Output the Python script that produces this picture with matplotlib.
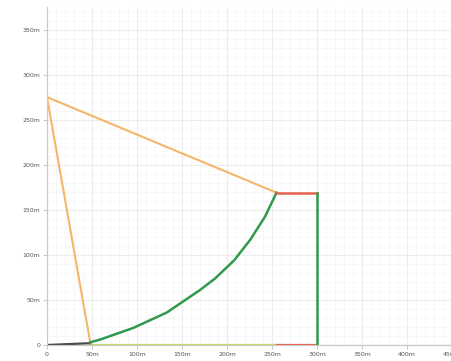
import numpy as np
import matplotlib
matplotlib.use('Agg')
import matplotlib.pyplot as plt
from matplotlib.ticker import MultipleLocator, FuncFormatter

# profile segments (metres)
rise_x = [0, 0]
rise_y = [0, 275]
steep_x = [0, 48]
steep_y = [275, 3]
slope_x = [0, 255]
slope_y = [275, 169]
curve_x = [48, 59, 96, 133, 170, 187, 208, 226, 242, 255]
curve_y = [3, 6, 19, 36, 61, 74, 94, 117, 142, 169]
top_x = [255, 300]
top_y = [169, 169]
drop_x = [300, 300]
drop_y = [169, 0]
base_dark_x = [0, 48]
base_dark_y = [0, 2]
base_mid_x = [48, 255]
base_mid_y = [0, 0]
base_red_x = [255, 300]
base_red_y = [0, 0]
base_tail_x = [300, 450]
base_tail_y = [0, 0]

orange = '#f7b56a'
green = '#2f9a4c'
red = '#e8634f'

fig = plt.figure(figsize=(4.51, 3.61), dpi=100)
ax = fig.add_axes([47 / 451, 16 / 361, 405 / 451, 338 / 361])

ax.plot(base_tail_x, base_tail_y, color='#d6e4f0', linewidth=1.0)
ax.plot(base_mid_x, base_mid_y, color='#cbd85a', linewidth=1.6)
ax.plot(base_red_x, base_red_y, color=red, linewidth=1.6)
ax.plot(base_dark_x, base_dark_y, color='#4a4a4a', linewidth=1.6)
ax.plot(rise_x, rise_y, color=orange, linewidth=1.5)
ax.plot(steep_x, steep_y, color=orange, linewidth=1.5)
ax.plot(slope_x, slope_y, color=orange, linewidth=1.5)
ax.plot(curve_x, curve_y, color=green, linewidth=1.8)
ax.plot(top_x, top_y, color=red, linewidth=1.8)
ax.plot(drop_x, drop_y, color=green, linewidth=1.8)

ax.set_xlim(0, 450)
ax.set_ylim(0, 375)

ax.xaxis.set_major_locator(MultipleLocator(50))
ax.yaxis.set_major_locator(MultipleLocator(50))
ax.xaxis.set_minor_locator(MultipleLocator(10))
ax.yaxis.set_minor_locator(MultipleLocator(10))
fmt = FuncFormatter(lambda v, p: '0' if v == 0 else '%dm' % v)
ax.xaxis.set_major_formatter(fmt)
ax.yaxis.set_major_formatter(fmt)

ax.grid(which='major', color='#ececec', linewidth=0.8)
ax.grid(which='minor', color='#f6f6f6', linewidth=0.6)
ax.set_axisbelow(True)

for side in ['top', 'right']:
    ax.spines[side].set_visible(False)
for side in ['left', 'bottom']:
    ax.spines[side].set_color('#c8c8c8')
    ax.spines[side].set_linewidth(0.8)

ax.tick_params(which='major', labelsize=4.5, labelcolor='#555555',
    color='#bbbbbb', length=3, width=0.6, pad=2)
ax.tick_params(which='minor', length=0)

plt.savefig('out.png', dpi=100)
